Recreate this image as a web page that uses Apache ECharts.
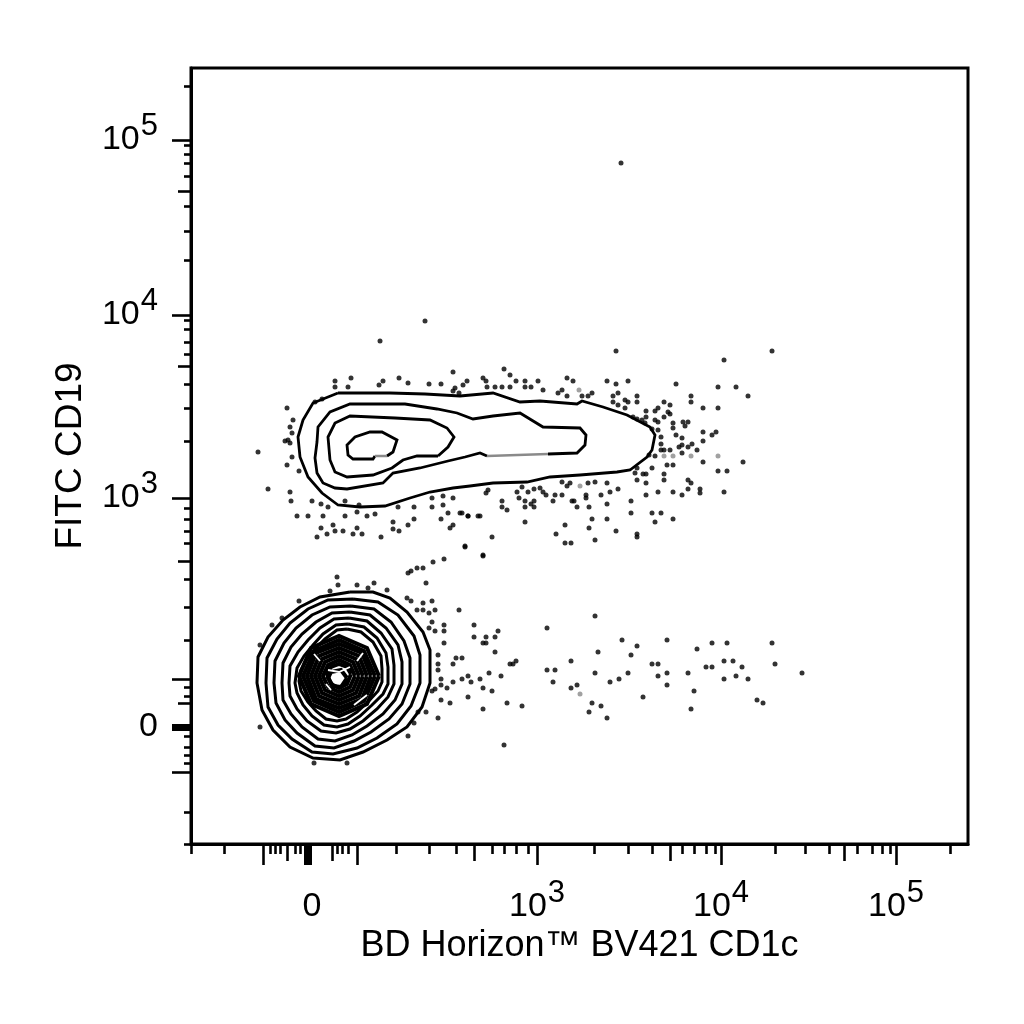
<!DOCTYPE html>
<html>
<head>
<meta charset="utf-8">
<title>CD1c vs CD19</title>
<script src="https://cdn.jsdelivr.net/npm/echarts@6/dist/echarts.min.js"></script>
<style>
html, body { margin: 0; padding: 0; background: #fff; }
#plot { width: 1024px; height: 1024px; }
</style>
</head>
<body>
<div id="plot"></div>
<script>
// all values are display channels of the biexponential scale (0..777 across, 0..776 up)

// x axis ticks
var xTickLong = [72, 166, 346, 530, 705];
var xTickMid = [96, 141, 283, 479, 653];
var xTickShort = [0, 33, 79, 84, 89, 104, 109, 146, 151, 157, 205, 238, 265, 301, 313, 325, 337, 403, 437, 461, 491, 503, 515, 524, 584, 614, 638, 666, 681, 691, 699, 759];
var xTickZero = [117];
var xLabelValues = [117, 346, 530, 705];

// y axis ticks
var yTickLong = [72, 165, 346, 529, 704];
var yTickMid = [141, 283, 478, 653];
var yTickShort = [0, 32, 81, 89, 97, 108, 148, 157, 204, 237, 265, 301, 313, 325, 336, 403, 436, 460, 490, 502, 515, 524, 584, 613, 638, 668, 681, 690, 699, 758];
var yTickZero = [117];
var yLabelValues = [117, 346, 529, 704];

var tickLabels = ['0', '3', '4', '5'];

// upper population contours
var upperRing1 = [[147,451],[122,441],[112,424],[107,407],[109,387],[117,367],[131,351],[147,339],[169,337],[194,338],[219,346],[239,352],[262,356],[279,358],[302,361],[336,362],[359,367],[389,369],[426,372],[439,374],[456,387],[461,394],[464,409],[459,417],[436,429],[412,437],[391,443],[386,440],[349,443],[329,442],[302,451],[269,448],[234,450],[199,451],[147,451]];
var upperRing2Black = [[296,388],[289,391],[274,387],[257,383],[229,376],[202,371],[192,361],[156,355],[144,356],[132,361],[126,371],[124,386],[126,402],[127,417],[139,432],[159,440],[214,440],[246,435],[266,431],[282,425],[302,428],[329,431],[352,417],[389,416],[395,409],[394,399],[386,391],[357,390]];
var upperRing2Gray = [[357,390],[296,388]];
var upperRing3Black = [[247,388],[226,388],[212,384],[201,376],[182,369],[156,367],[144,372],[139,384],[137,407],[144,421],[159,428],[204,426],[239,424],[256,416],[263,407],[257,397],[247,388]];
var upperRing4Black = [[184,388],[182,385],[162,385],[157,389],[156,399],[164,407],[179,412],[191,412],[206,404],[202,392],[196,388]];
var upperRing4Gray = [[196,388],[184,388]];

// lower population contours, outside to inside
var lowerRing1 = [[159,252],[182,252],[199,246],[216,232],[232,212],[239,194],[239,161],[231,137],[216,117],[196,104],[172,92],[149,84],[122,86],[99,97],[82,114],[71,134],[66,161],[67,187],[77,207],[92,224],[109,237],[129,247],[159,252]];
var lowerRing2 = [[162,245],[187,242],[207,229],[223,208],[229,189],[229,161],[220,138],[206,120],[186,106],[166,96],[142,90],[121,92],[101,105],[87,119],[77,137],[75,161],[76,186],[86,205],[99,221],[117,235],[137,244],[162,245]];
var lowerRing3 = [[160,238],[183,235],[200,222],[213,203],[219,186],[219,160],[211,140],[198,125],[180,112],[163,103],[143,96],[124,98],[106,111],[94,124],[85,141],[83,161],[84,183],[93,201],[105,216],[121,229],[139,237],[160,238]];
var lowerRing4 = [[159,232],[179,229],[195,216],[207,199],[211,182],[211,160],[204,144],[192,130],[176,118],[161,109],[144,103],[127,105],[111,117],[100,130],[92,144],[91,161],[92,181],[100,197],[111,210],[125,222],[141,231],[159,232]];
var lowerRing5 = [[158,226],[176,223],[190,211],[201,195],[203,179],[203,160],[197,147],[186,135],[172,123],[159,115],[145,111],[130,113],[116,123],[106,135],[99,148],[98,161],[99,178],[107,192],[117,204],[129,216],[143,225],[158,226]];
var lowerRing6 = [[157,220],[173,217],[186,206],[195,191],[197,177],[197,160],[192,150],[181,139],[169,128],[157,120],[146,117],[133,119],[121,128],[112,139],[106,151],[104,161],[106,176],[113,188],[122,199],[132,210],[145,219],[157,220]];
var lowerRing7 = [[156,215],[170,212],[182,202],[190,188],[191,175],[191,162],[187,153],[177,142],[166,132],[155,125],[146,123],[135,125],[125,133],[117,142],[110,153],[108,163],[110,174],[116,185],[124,195],[134,205],[146,214],[156,215]];

// dense rings in the middle of the lower population, they close up to solid black
var coreRing2 = [[188,168],[176,196],[148,208],[120,196],[108,168],[120,140],[148,128],[176,140],[188,168]];
var coreRing3 = [[184,168],[173,193],[148,204],[123,193],[112,168],[123,143],[148,132],[173,143],[184,168]];
var coreRing4 = [[180,168],[171,191],[148,200],[125,191],[116,168],[125,145],[148,136],[171,145],[180,168]];
var coreRing5 = [[176,168],[168,188],[148,196],[128,188],[120,168],[128,148],[148,140],[168,148],[176,168]];
var coreRing6 = [[172,168],[165,185],[148,192],[131,185],[124,168],[131,151],[148,144],[165,151],[172,168]];
var coreRing7 = [[168,168],[162,182],[148,188],[134,182],[128,168],[134,154],[148,148],[162,154],[168,168]];
var coreRing8 = [[164,168],[159,179],[148,184],[137,179],[132,168],[137,157],[148,152],[159,157],[164,168]];
var coreRing9 = [[160,170],[156,177],[148,180],[140,177],[136,170],[140,160],[148,156],[156,160],[160,170]];
var coreRing10 = [[156,166],[150,174],[140,172],[137,166],[142,158],[150,157],[156,166]];

// gaps left between the dense rings
var coreGap1 = [[123,190],[129,183]];
var coreGap2 = [[166,183],[172,191]];
var coreGap3 = [[163,139],[176,149]];
var coreGap4 = [[135,160],[140,154]];
var coreGap5 = [[137,174],[148,172],[159,177]];

// events outside the contours
var upperEvents = [[160,466],[144,463],[144,457],[157,457],[188,459],[192,463],[208,466],[217,461],[238,460],[250,460],[262,472],[276,463],[272,459],[264,456],[262,453],[268,451],[131,445],[124,442],[96,436],[102,424],[99,417],[101,411],[97,404],[94,403],[99,401],[101,387],[96,379],[108,373],[99,352],[100,343],[121,343],[130,340],[137,337],[154,343],[106,328],[117,328],[132,328],[154,328],[168,339],[166,332],[176,328],[184,330],[207,337],[223,337],[223,325],[202,322],[202,315],[217,319],[208,313],[130,316],[142,319],[136,310],[126,307],[144,313],[152,313],[166,316],[162,310],[171,310],[190,307],[241,346],[252,348],[262,346],[241,337],[252,339],[257,331],[269,331],[277,328],[287,328],[250,325],[262,319],[259,316],[67,392],[77,355],[430,681],[234,523],[189,503]];
var upperRightEvents = [[425,493],[581,493],[533,484],[313,475],[319,469],[292,466],[295,463],[296,457],[304,457],[311,457],[319,457],[325,463],[334,463],[334,457],[340,457],[347,463],[352,454],[376,466],[382,463],[371,454],[367,451],[376,448],[391,448],[401,451],[397,448],[416,463],[425,460],[437,463],[485,460],[527,457],[545,457],[557,448],[500,448],[500,442],[427,451],[422,448],[422,442],[427,439],[434,444],[437,442],[446,448],[446,442],[434,436],[473,442],[479,439],[467,436],[464,433],[455,433],[477,432],[479,430],[473,427],[442,427],[446,425],[455,427],[451,424],[454,421],[464,424],[467,422],[461,415],[467,414],[482,421],[482,416],[492,422],[497,422],[494,418],[512,436],[527,436],[512,412],[525,412],[521,409],[485,409],[491,406],[470,407],[470,400],[512,403],[491,399],[488,397],[497,397],[501,400],[506,394],[470,394],[473,394],[479,394],[491,391],[464,388],[458,389],[512,382],[552,382],[476,379],[482,379],[461,376],[527,373],[536,373],[473,370],[473,364],[446,376],[444,371],[452,370],[455,370],[446,364],[455,361],[497,364],[500,361],[497,355],[509,355],[509,351],[533,352],[482,352],[491,349],[467,352],[455,349],[427,355],[419,352],[410,349],[395,349],[395,346],[416,340],[440,343],[440,331],[461,331],[470,331],[464,322],[482,325],[416,325],[401,325],[398,316],[374,319],[365,310],[374,301],[380,301],[404,304],[425,313],[446,310],[446,307],[386,337],[398,337],[381,343],[383,343],[362,343],[364,349],[371,349],[355,349],[349,356],[352,352],[343,355],[337,352],[328,346],[326,352],[331,357],[334,343],[343,343],[340,340],[343,337],[334,337],[311,343],[311,337],[316,334],[297,354],[295,351],[271,331],[277,328],[289,328],[334,322],[301,307],[274,298],[292,289],[416,361],[404,362],[397,361],[379,361],[376,358],[371,362]];
var lowerEvents = [[274,297],[292,288],[253,285],[242,282],[232,276],[226,276],[220,273],[217,271],[235,261],[216,246],[220,243],[232,241],[241,243],[226,234],[232,234],[238,231],[244,234],[268,234],[241,222],[253,219],[283,219],[238,216],[244,213],[253,213],[307,213],[356,216],[283,207],[295,207],[304,207],[253,201],[292,201],[295,201],[304,192],[247,189],[265,186],[271,186],[262,180],[247,180],[247,174],[319,180],[322,180],[325,183],[298,171],[310,168],[277,168],[271,165],[250,165],[262,162],[280,162],[289,165],[250,159],[256,156],[292,156],[301,153],[241,153],[244,155],[277,147],[250,144],[259,141],[316,141],[331,138],[292,135],[235,132],[227,132],[247,126],[223,121],[217,108],[313,99],[146,267],[147,259],[166,259],[183,261],[139,253],[196,254],[177,256],[108,243],[91,226],[81,219],[69,199],[69,117],[123,81],[156,81]];
var lowerRightEvents = [[404,228],[431,204],[476,204],[446,198],[506,195],[521,201],[536,201],[581,201],[407,192],[440,189],[380,183],[533,183],[542,183],[461,180],[467,180],[584,180],[515,177],[521,177],[551,177],[356,174],[364,174],[404,171],[437,171],[476,171],[497,171],[611,171],[467,168],[545,168],[428,165],[533,165],[557,165],[419,162],[362,162],[386,159],[380,156],[476,159],[503,153],[452,147],[566,144],[572,141],[401,141],[410,138],[500,135],[398,132],[416,126]];
var grayEvents = [[389,150],[388,454],[389,358],[473,388],[482,388],[500,388],[527,388]];

var upperRings = [upperRing1, upperRing2Black, upperRing3Black, upperRing4Black];
var lowerRings = [lowerRing1, lowerRing2, lowerRing3, lowerRing4, lowerRing5, lowerRing6, lowerRing7];
var grayLines = [upperRing2Gray, upperRing4Gray];
var coreRings = [coreRing2, coreRing3, coreRing4, coreRing5, coreRing6, coreRing7, coreRing8, coreRing9, coreRing10];
var coreGaps = [coreGap1, coreGap2, coreGap3, coreGap4, coreGap5];
var eventSets = [upperEvents, upperRightEvents, lowerEvents, lowerRightEvents];

function line_series(points, color, width) {
    return {
        type: 'line',
        data: points,
        showSymbol: false,
        silent: true,
        lineStyle: { color: color, width: width, join: 'miter' },
        z: 3
    };
}

function dot_series(points, color) {
    return {
        type: 'scatter',
        data: points,
        symbol: 'circle',
        symbolSize: 5,
        silent: true,
        itemStyle: { color: color },
        z: 2
    };
}

var series = [];
upperRings.forEach(function (r) { series.push(line_series(r, '#000', 2.8)); });
lowerRings.forEach(function (r) { series.push(line_series(r, '#000', 3)); });
grayLines.forEach(function (r) { series.push(line_series(r, '#8a8a8a', 2.4)); });
coreRings.forEach(function (r) { series.push(line_series(r, '#000', 4)); });
coreGaps.forEach(function (r) {
    var s = line_series(r, '#fff', 1.8);
    s.z = 4;
    series.push(s);
});
eventSets.forEach(function (r) { series.push(dot_series(r, '#000')); });
series.push(dot_series(grayEvents, '#8a8a8a'));

var labelRich = {
    base: { fontFamily: 'Liberation Sans', fontSize: 34, color: '#000', lineHeight: 58, verticalAlign: 'middle' },
    sup: { fontFamily: 'Liberation Sans', fontSize: 31, color: '#000', lineHeight: 30, verticalAlign: 'top', padding: [0, 0, 28, 1] },
    zero: { fontFamily: 'Liberation Sans', fontSize: 34, color: '#000', lineHeight: 58, verticalAlign: 'middle', padding: [0, 0, 0, 8] }
};

function label_text(value, labelValues) {
    var i = labelValues.indexOf(value);
    if (i == 0)
        return '{zero|' + tickLabels[0] + '}';
    return '{base|10}{sup|' + tickLabels[i] + '}';
}

// one axis per tick length, all on the same scale
function tick_axis(extent, position, ticks, length, width) {
    return {
        type: 'value',
        position: position,
        min: extent[0],
        max: extent[1],
        splitLine: { show: false },
        axisLine: { show: false, onZero: false },
        axisLabel: { show: false },
        axisTick: {
            show: true,
            inside: false,
            customValues: ticks,
            length: length,
            lineStyle: { color: '#000', width: width }
        }
    };
}

var xMain = tick_axis([0, 777], 'bottom', xTickLong, 21, 2.6);
xMain.axisLine = { show: true, onZero: false, lineStyle: { color: '#000', width: 3 } };
xMain.name = 'BD Horizon\u2122 BV421 CD1c';
xMain.nameLocation = 'middle';
xMain.nameGap = 84;
xMain.nameMoveOverlap = false;
xMain.nameTextStyle = { fontFamily: 'Liberation Sans', fontSize: 36, color: '#000' };
xMain.axisLabel = {
    show: true,
    margin: 34,
    customValues: xLabelValues,
    rich: labelRich,
    formatter: function (v) { return label_text(v, xLabelValues); }
};

var yMain = tick_axis([0, 776], 'left', yTickLong, 19, 2.6);
yMain.axisLine = { show: true, onZero: false, lineStyle: { color: '#000', width: 3 } };
yMain.name = 'FITC CD19';
yMain.nameLocation = 'middle';
yMain.nameGap = 102;
yMain.nameMoveOverlap = false;
yMain.nameTextStyle = { fontFamily: 'Liberation Sans', fontSize: 37, color: '#000' };
yMain.axisLabel = {
    show: true,
    margin: 33,
    customValues: yLabelValues,
    rich: labelRich,
    formatter: function (v) { return label_text(v, yLabelValues); }
};

var plot = echarts.init(document.getElementById('plot'));

option = {
    animation: false,
    backgroundColor: '#fff',
    grid: {
        left: 191,
        top: 68,
        width: 777,
        height: 776,
        show: true,
        backgroundColor: '#fff',
        borderColor: '#000',
        borderWidth: 3
    },
    xAxis: [
        xMain,
        tick_axis([0, 777], 'bottom', xTickMid, 17, 2.6),
        tick_axis([0, 777], 'bottom', xTickShort, 10, 2.6),
        tick_axis([0, 777], 'bottom', xTickZero, 21, 8)
    ],
    yAxis: [
        yMain,
        tick_axis([0, 776], 'left', yTickMid, 13, 2.6),
        tick_axis([0, 776], 'left', yTickShort, 7, 2.6),
        tick_axis([0, 776], 'left', yTickZero, 19, 7)
    ],
    series: series
};

plot.setOption(option);
</script>
</body>
</html>
